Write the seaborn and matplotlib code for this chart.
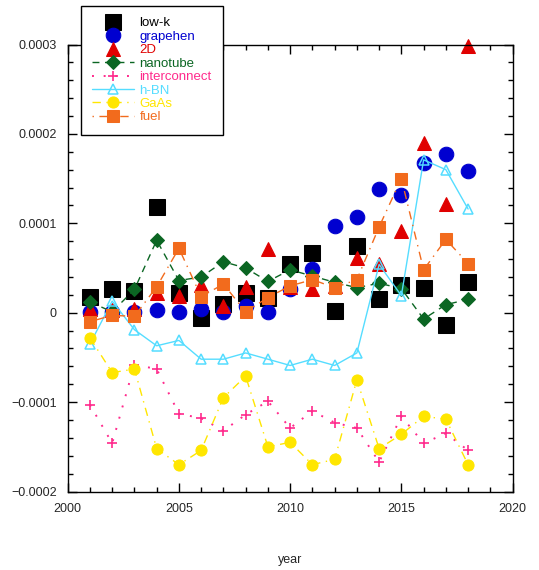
import matplotlib
matplotlib.use("Agg")
import matplotlib.pyplot as plt
import numpy as np
import pandas as pd
import seaborn as sns
from matplotlib.ticker import FuncFormatter, MultipleLocator


YEARS = list(range(2001, 2019))

LOW_K = [1.8e-5, 2.6e-5, 2.4e-5, 1.18e-4, 2.2e-5, -5.6e-6, 9.7e-6, 2.2e-5, 1.7e-5,
         5.4e-5, 6.7e-5, 2.0e-6, 7.5e-5, 1.5e-5, 3.1e-5, 2.8e-5, -1.4e-5, 3.4e-5]
GRAPEHEN = [0.5e-6, 0.5e-6, 0.5e-6, 3e-6, 1e-6, 4e-6, 1e-6, 7.5e-6, 1e-6,
            2.6e-5, 4.9e-5, 9.7e-5, 1.07e-4, 1.38e-4, 1.32e-4, 1.68e-4, 1.77e-4, 1.58e-4]
TWO_D = [4e-6, 3e-6, 4e-6, 2.2e-5, 1.9e-5, 3.1e-5, 8e-6, 2.9e-5, 7.1e-5,
         2.9e-5, 2.6e-5, 3.0e-5, 6.1e-5, 5.5e-5, 9.1e-5, 1.9e-4, 1.22e-4, 2.98e-4]
NANOTUBE = [1.2e-5, 1e-6, 2.6e-5, 8.1e-5, 3.6e-5, 4.0e-5, 5.7e-5, 5.0e-5, 3.5e-5,
            4.8e-5, 4.1e-5, 3.4e-5, 2.8e-5, 3.3e-5, 2.7e-5, -7e-6, 9e-6, 1.5e-5]
INTERCONNECT = [-1.03e-4, -1.46e-4, -5.8e-5, -6.3e-5, -1.13e-4, -1.18e-4, -1.32e-4, -1.14e-4, -9.9e-5,
                -1.29e-4, -1.10e-4, -1.23e-4, -1.29e-4, -1.67e-4, -1.16e-4, -1.46e-4, -1.35e-4, -1.54e-4]
H_BN = [-3.5e-5, 1.3e-5, -1.9e-5, -3.7e-5, -3.1e-5, -5.2e-5, -5.2e-5, -4.5e-5, -5.2e-5,
        -5.9e-5, -5.2e-5, -5.9e-5, -4.5e-5, 5.4e-5, 1.9e-5, 1.71e-4, 1.60e-4, 1.16e-4]
GAAS = [-2.8e-5, -6.7e-5, -6.3e-5, -1.52e-4, -1.70e-4, -1.54e-4, -9.5e-5, -7.1e-5, -1.50e-4,
        -1.45e-4, -1.70e-4, -1.64e-4, -7.5e-5, -1.52e-4, -1.36e-4, -1.16e-4, -1.19e-4, -1.70e-4]
FUEL = [-1.0e-5, -3e-6, -4e-6, 2.9e-5, 7.2e-5, 1.8e-5, 3.2e-5, 1e-6, 1.7e-5,
        3.0e-5, 3.7e-5, 2.8e-5, 3.7e-5, 9.6e-5, 1.5e-4, 4.8e-5, 8.2e-5, 5.5e-5]

LABELS = ["low-k", "grapehen", "2D", "nanotube", "interconnect", "h-BN", "GaAs", "fuel"]
SERIES = [LOW_K, GRAPEHEN, TWO_D, NANOTUBE, INTERCONNECT, H_BN, GAAS, FUEL]

STYLES = [
    dict(color="#000000", marker="s", markersize=11, linestyle="none"),
    dict(color="#0000d0", marker="o", markersize=10.5, linestyle="none"),
    dict(color="#e00000", marker="^", markersize=10, linestyle="none"),
    dict(color="#0b6623", marker="D", markersize=7.5, linestyle=(0, (5, 4)), linewidth=1.0),
    dict(color="#ff2a8c", marker="+", markersize=7, markeredgewidth=1.2, linestyle=(0, (1, 5)), linewidth=1.4),
    dict(color="#55ddff", marker="^", markersize=6.5, markerfacecolor="none", markeredgewidth=1.1,
         linestyle="-", linewidth=1.0),
    dict(color="#ffe600", marker="o", markersize=8, linestyle=(0, (6, 4, 1, 4)), linewidth=1.0),
    dict(color="#f26b1d", marker="s", markersize=8, linestyle=(0, (1, 4, 6, 4)), linewidth=1.0),
]


def minus_fmt(v, _):
    if abs(v) < 1e-12:
        return "0"
    s = f"{v:.4f}"
    return s.replace("-", "\u2212")


def main() -> None:
    sns.set_style("ticks")
    plt.rcParams["font.family"] = ["Liberation Sans", "DejaVu Sans"]
    plt.rcParams["font.size"] = 9

    fig = plt.figure(figsize=(5.39, 5.70), dpi=100)
    ax = fig.add_axes([0.1256, 0.1377, 0.951 - 0.1256, 0.9219 - 0.1377])

    for label, values, style in zip(LABELS, SERIES, STYLES):
        df = pd.DataFrame({"year": YEARS, "value": values})
        kws = dict(style)
        kws.setdefault("markeredgecolor", style["color"])
        sns.lineplot(data=df, x="year", y="value", ax=ax, errorbar=None,
                     clip_on=False, **kws)

    ax.set_xlim(2000, 2020)
    ax.set_ylim(-0.0002, 0.0003)
    ax.xaxis.set_major_locator(MultipleLocator(5))
    ax.xaxis.set_minor_locator(MultipleLocator(1))
    ax.yaxis.set_major_locator(MultipleLocator(0.0001))
    ax.yaxis.set_minor_locator(MultipleLocator(0.00002))
    ax.yaxis.set_major_formatter(FuncFormatter(minus_fmt))
    ax.tick_params(which="both", direction="in", top=True, right=True, width=1.0,
                   labelsize=9, color="black")
    ax.tick_params(which="major", length=6.5, pad=8)
    ax.tick_params(which="minor", length=3.6)
    for sp in ax.spines.values():
        sp.set_linewidth(1.0)
        sp.set_color("black")
    ax.set_xlabel("year", fontsize=9, labelpad=28)
    ax.set_ylabel("")

    handles = ax.get_lines()[:len(LABELS)]
    leg = ax.legend(handles, LABELS, loc="upper left",
                    bbox_to_anchor=(81 / 539, 1 - 6 / 570), bbox_transform=fig.transFigure,
                    borderaxespad=0, frameon=True, fancybox=False, framealpha=1,
                    edgecolor="black", fontsize=9.5, handlelength=3.2, handletextpad=0.38,
                    labelspacing=0.09, borderpad=0.85, labelcolor=[s["color"] for s in STYLES])
    leg.get_frame().set_linewidth(1.0)

    fig.savefig("out.png", dpi=100)


if __name__ == "__main__":
    main()
